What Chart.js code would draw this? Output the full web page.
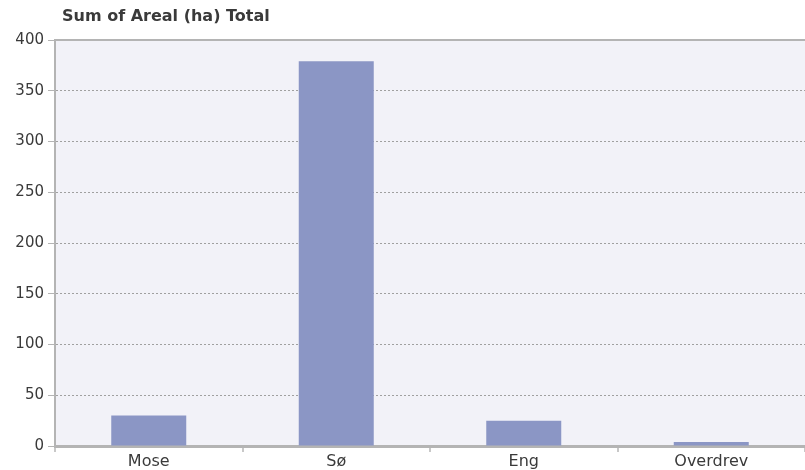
<!DOCTYPE html>
<html>
<head>
<meta charset="utf-8">
<script src="https://cdn.jsdelivr.net/npm/chart.js@4"></script>
<style>
  html, body { margin: 0; padding: 0; background: #ffffff; }
  #wrap { width: 805px; height: 470px; }
</style>
</head>
<body>
<div id="wrap"><canvas id="arealChart" width="805" height="470"></canvas></div>
<script>
  // Data
  const categories = ['Mose', 'Sø', 'Eng', 'Overdrev'];
  const arealValues = [30, 379, 25, 4];
  const yTicks = [0, 50, 100, 150, 200, 250, 300, 350, 400];
  const chartTitle = 'Sum of Areal (ha) Total';

  // Plot background, top border line and the title
  const plotBackground = {
    id: 'plotBackground',
    beforeDraw(chart) {
      const a = chart.chartArea;
      const ctx = chart.ctx;
      ctx.save();
      ctx.fillStyle = '#f2f2f8';
      ctx.fillRect(a.left, a.top, a.right - a.left, a.bottom - a.top);
      ctx.restore();
    },
    afterDraw(chart) {
      const c = chart.ctx;
      const area = chart.chartArea;
      c.save();
      c.strokeStyle = '#b4b4b4';
      c.lineWidth = 2;
      c.beginPath();
      c.moveTo(area.left, area.top);
      c.lineTo(area.right, area.top);
      c.stroke();
      // title text
      c.fillStyle = '#3a3a3a';
      c.font = 'bold 16px "DejaVu Sans"';
      c.textBaseline = 'middle';
      c.textAlign = 'left';
      c.fillText(chartTitle, area.left + 7, 17);
      c.restore();
    }
  };

  const ctx = document.getElementById('arealChart').getContext('2d');
  new Chart(ctx, {
    type: 'bar',
    data: {
      labels: categories,
      datasets: [{
        label: 'Areal (ha)',
        data: arealValues,
        backgroundColor: '#8b96c5',
        borderWidth: 0,
        barPercentage: 0.4,
        categoryPercentage: 1
      }]
    },
    options: {
      responsive: false,
      animation: false,
      layout: { padding: { left: 0, right: 0, top: 40, bottom: 0 } },
      plugins: {
        legend: { display: false },
        tooltip: { enabled: false },
        title: { display: false }
      },
      scales: {
        x: {
          grid: {
            display: true,
            offset: true,
            drawOnChartArea: false,
            drawTicks: true,
            tickLength: 6,
            color: '#c8c8c8',
            lineWidth: 2
          },
          border: { display: true, color: '#b4b4b4', width: 3 },
          ticks: {
            color: '#3a3a3a',
            font: { family: 'DejaVu Sans', size: 16 },
            padding: 0
          },
          afterFit(axis) { axis.height = 24; }
        },
        y: {
          min: 0,
          max: 400,
          afterBuildTicks(axis) {
            axis.ticks = yTicks.map(v => ({ value: v }));
          },
          grid: {
            color: '#a0a0a0',
            lineWidth: 1,
            tickLength: 7,
            tickBorderDash: [],
            tickColor: '#b4b4b4'
          },
          border: { display: true, color: '#b4b4b4', width: 2, dash: [2, 2] },
          ticks: {
            color: '#3a3a3a',
            font: { family: 'DejaVu Sans', size: 15 },
            padding: 4
          },
          afterFit(axis) { axis.width = 55; }
        }
      }
    },
    plugins: [plotBackground]
  });
</script>
</body>
</html>
